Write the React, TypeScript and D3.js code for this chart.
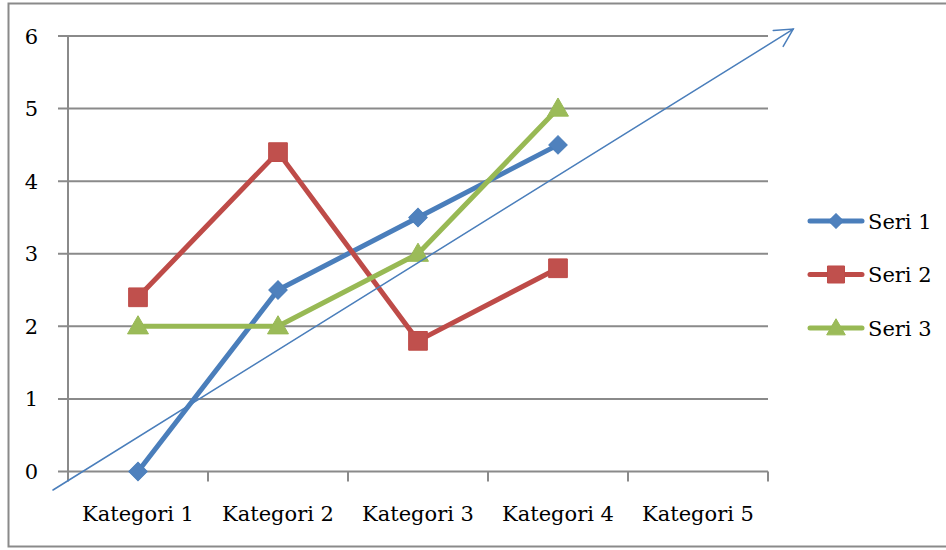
import React from 'react';
import * as d3 from 'd3';

const categories = ['Kategori 1', 'Kategori 2', 'Kategori 3', 'Kategori 4', 'Kategori 5'];
const seri1 = [0, 2.5, 3.5, 4.5];
const seri2 = [2.4, 4.4, 1.8, 2.8];
const seri3 = [2, 2, 3, 5];
const yTicks = [0, 1, 2, 3, 4, 5, 6];
// arrow annotation in data units: [category offset, value]
const arrowFrom = [-0.607, -0.255];
const arrowTo = [4.68, 6.095];

const series = [
    { name: 'Seri 1', values: seri1, color: '#4a7ebb', fill: '#4f81bd', shape: 'diamond' },
    { name: 'Seri 2', values: seri2, color: '#be4b48', fill: '#c0504d', shape: 'square' },
    { name: 'Seri 3', values: seri3, color: '#98b954', fill: '#9bbb59', shape: 'triangle' },
];

const W = 946, H = 550;
const left = 68, right = 768, top = 36, bottom = 471.5;
const font = '"DejaVu Serif", serif';
const grid = '#8a8a8a';
const fs = 21;

const x = d3.scaleBand().domain(categories).range([left, right]);
const xi = (i: number) => left + x.bandwidth() * (i + 0.5);
const y = d3.scaleLinear().domain([0, 6]).range([bottom, top]);

const marker = (shape: string, big: boolean) => {
    if (shape === 'diamond') return d3.symbol(d3.symbolSquare, big ? 170 : 110)();
    if (shape === 'square') return d3.symbol(d3.symbolSquare, big ? 350 : 290)();
    return d3.symbol(d3.symbolTriangle, big ? 190 : 150)();
};

const Marker = ({ s, cx, cy, big }: any) => (
    <path d={marker(s.shape, big) || ''} fill={s.fill} stroke={s.color} strokeWidth={1}
          transform={`translate(${cx},${cy})${s.shape === 'diamond' ? ' rotate(45)' : ''}${s.shape === 'triangle' ? ' translate(0,1.5)' : ''}`} />
);

const App = () => {
    const line = d3.line<number>().x((d, i) => xi(i)).y(d => y(d));

    const x1 = xi(arrowFrom[0]), y1 = y(arrowFrom[1]);
    const x2 = xi(arrowTo[0]), y2 = y(arrowTo[1]);
    const ang = Math.atan2(y1 - y2, x1 - x2);
    const arm = 20, spread = 28 * Math.PI / 180;
    const head = [ang - spread, ang + spread].map(a => [x2 + arm * Math.cos(a), y2 + arm * Math.sin(a)]);

    return (
        <svg width={W} height={H} style={{ position: 'absolute', left: 0, top: 0, background: '#fff' }}
             fontFamily={font}>
            <rect x={8.5} y={3.5} width={W} height={543} fill="none" stroke={grid} strokeWidth={2} />

            {yTicks.map(t => (
                <g key={t}>
                    <line x1={58} x2={right} y1={y(t)} y2={y(t)} stroke={grid} strokeWidth={2} />
                    <text x={38} y={y(t)} dy="0.36em" textAnchor="end" fontSize={fs} fill="#000">{t}</text>
                </g>
            ))}
            <line x1={left} x2={left} y1={top} y2={bottom} stroke={grid} strokeWidth={2} />
            {[...categories.map(c => x(c) as number), right].map((v, i) => (
                <line key={i} x1={v} x2={v} y1={bottom} y2={bottom + 10} stroke={grid} strokeWidth={2} />
            ))}
            {categories.map(c => (
                <text key={c} x={(x(c) as number) + x.bandwidth() / 2} y={521} textAnchor="middle"
                      fontSize={fs} fill="#000">{c}</text>
            ))}

            {series.map(s => (
                <g key={s.name}>
                    <path d={line(s.values) || ''} fill="none" stroke={s.color} strokeWidth={5}
                          strokeLinejoin="round" strokeLinecap="round" />
                    {s.values.map((v, i) => <Marker key={i} s={s} cx={xi(i)} cy={y(v)} big />)}
                </g>
            ))}

            <g stroke="#4a7ebb" strokeWidth={1.5} fill="none" strokeLinecap="round">
                <line x1={x1} y1={y1} x2={x2} y2={y2} />
                <polyline points={`${head[0][0]},${head[0][1]} ${x2},${y2} ${head[1][0]},${head[1][1]}`} />
            </g>

            {series.map((s, i) => {
                const ly = 221 + i * 53.5;
                return (
                    <g key={s.name}>
                        <line x1={810} x2={862} y1={ly} y2={ly} stroke={s.color} strokeWidth={5} strokeLinecap="round" />
                        <Marker s={s} cx={836} cy={ly} big={false} />
                        <text x={868} y={ly} dy="0.36em" fontSize={fs} fill="#000">{s.name}</text>
                    </g>
                );
            })}
        </svg>
    );
};

export default App;
